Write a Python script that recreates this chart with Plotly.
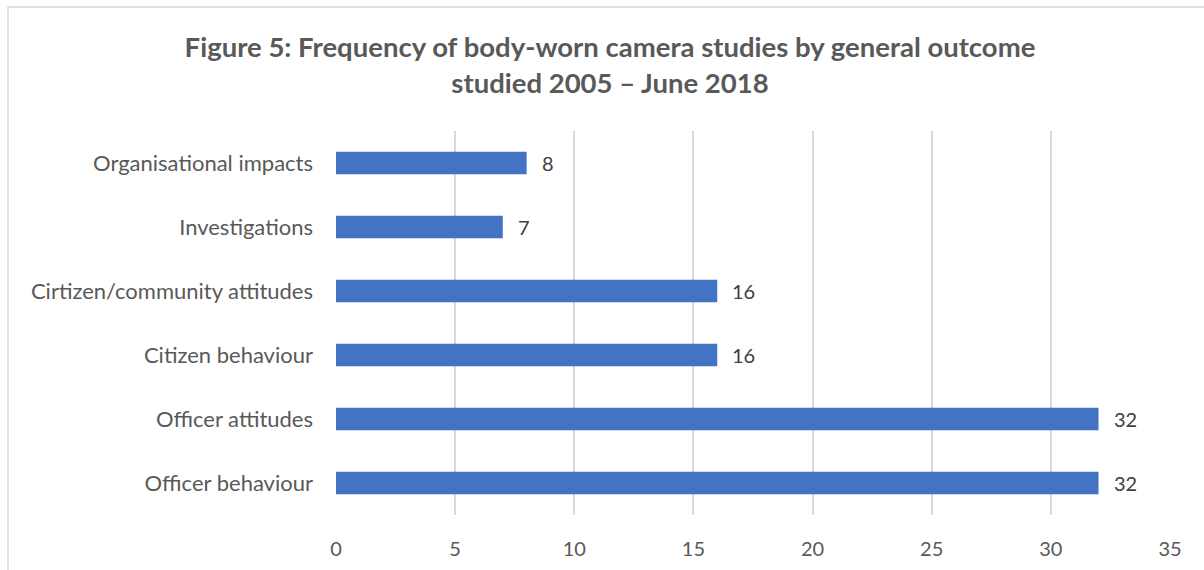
import plotly.graph_objects as go

categories = ["Organisational impacts", "Investigations", "Cirtizen/community attitudes",
              "Citizen behaviour", "Officer attitudes", "Officer behaviour"]
values = [8, 7, 16, 16, 32, 32]
x_ticks = [0, 5, 10, 15, 20, 25, 30, 35]
title_lines = ["Figure 5: Frequency of body-worn camera studies by general outcome",
               "studied 2005 \u2013 June 2018"]

W, H = 1204, 570
L, R, T, B = 336, 34, 131, 55
pw, ph = W - L - R, H - T - B

FONT = "Lato"
GRAY = "#595959"

fig = go.Figure()
fig.add_trace(go.Bar(
    x=values, y=categories, orientation="h",
    marker=dict(color="#4472C4", line=dict(width=0)),
    width=0.35, hoverinfo="skip",
))

for c, v in zip(categories, values):
    fig.add_annotation(x=v, y=c, text=str(v), showarrow=False,
                       xanchor="left", xshift=13,
                       font=dict(family=FONT, size=20, color="#404040"))

# chart border (light gray), extending beyond the cropped right/bottom
bx0 = (8 - L) / pw
by1 = 1 + (T - 7) / ph
fig.add_shape(type="rect", xref="paper", yref="paper",
              x0=bx0, x1=1.2, y0=-0.5, y1=by1,
              line=dict(color="#d9d9d9", width=1.5), layer="below")

fig.update_layout(
    width=W, height=H,
    margin=dict(l=L, r=R, t=T, b=B, autoexpand=False),
    paper_bgcolor="white", plot_bgcolor="white",
    showlegend=False,
    title=dict(text="<br>".join(title_lines), x=610 / W, xanchor="center",
               y=1 - 57 / H, yanchor="middle", yref="container",
               font=dict(family=FONT, size=27.5, color=GRAY, weight="bold")),
    xaxis=dict(range=[0, 35], tickvals=x_ticks, showgrid=True,
               gridcolor="#d9d9d9", gridwidth=1.5, zeroline=False,
               showline=False, ticks="", ticklabelstandoff=20,
               tickfont=dict(family=FONT, size=20, color=GRAY)),
    yaxis=dict(autorange="reversed", showgrid=False, zeroline=False,
               showline=False, ticks="", ticklabelstandoff=22,
               tickfont=dict(family=FONT, size=22, color=GRAY)),
)

fig.write_html("out.html")
